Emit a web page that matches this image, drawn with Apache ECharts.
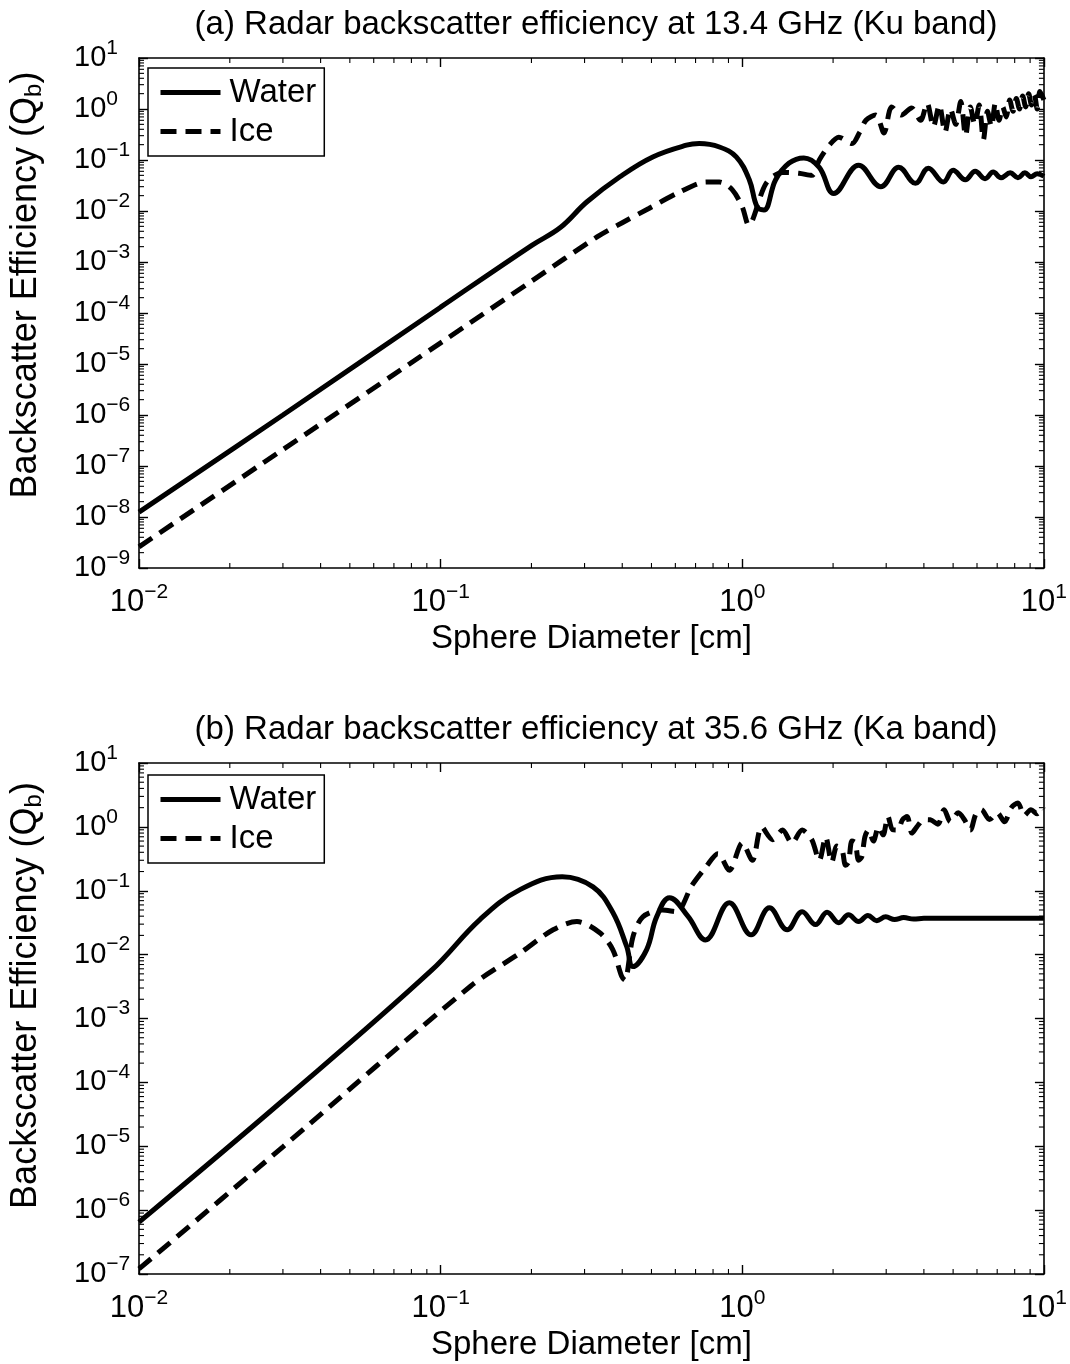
<!DOCTYPE html>
<html>
<head>
<meta charset="utf-8">
<title>Radar backscatter efficiency</title>
<script src="https://cdn.jsdelivr.net/npm/echarts@6/dist/echarts.min.js"></script>
<style>
  html, body { margin: 0; padding: 0; background: #fff; }
  #chart { width: 1070px; height: 1364px; }
</style>
</head>
<body>
<div id="chart"></div>
<script>
// ---- Ku band (13.4 GHz) ----
const kuWaterD = [0.01, 0.03, 0.1, 0.2, 0.25, 0.305, 0.393, 0.505, 0.653, 0.72, 0.84, 0.955, 1.055, 1.12, 1.18, 1.29, 1.43, 1.6, 1.8, 2.01, 2.43, 2.88, 3.30, 3.75, 4.14, 4.64, 5.0, 5.49, 5.92, 6.38, 6.79, 7.21, 7.73, 8.2, 8.65, 9.06, 9.5, 10];
const kuWaterQ = [1.25e-8, 1.0e-6, 1.3e-4, 2.1e-3, 4.8e-3, 1.5e-2, 4.7e-2, 0.115, 0.195, 0.21, 0.18, 0.115, 0.041, 0.012, 0.0105, 0.041, 0.087, 0.11, 0.072, 0.022, 0.079, 0.030, 0.072, 0.035, 0.069, 0.037, 0.063, 0.041, 0.060, 0.043, 0.058, 0.045, 0.056, 0.045, 0.056, 0.047, 0.054, 0.048];

const kuIceD = [0.01, 0.03, 0.1, 0.2, 0.33, 0.4, 0.49, 0.62, 0.76, 0.84, 0.927, 1.0, 1.05, 1.2, 1.36, 1.54, 1.7, 1.8, 1.95, 2.09, 2.31, 2.45, 2.57, 2.77, 2.95, 3.13, 3.37, 3.64, 3.9, 4.1, 4.3, 4.5, 4.7, 4.9, 5.1, 5.3, 5.5, 5.7, 5.9, 6.1, 6.3, 6.5, 6.7, 6.9, 7.1, 7.3, 7.5, 7.7, 7.9, 8.1, 8.3, 8.5, 8.7, 8.9, 9.1, 9.3, 9.5, 9.7, 10];
const kuIceQ = [2.6e-9, 2.1e-7, 2.6e-5, 4.2e-4, 3.1e-3, 5.9e-3, 1.12e-2, 2.35e-2, 3.7e-2, 3.7e-2, 2.6e-2, 1.2e-2, 5.3e-3, 3.5e-2, 5.7e-2, 5.5e-2, 5.0e-2, 0.10, 0.20, 0.28, 0.21, 0.35, 0.60, 0.76, 0.34, 1.1, 0.76, 1.05, 0.6, 1.3, 0.45, 1.2, 0.35, 1.0, 0.5, 1.4, 0.3, 1.1, 0.5, 1.2, 0.25, 0.9, 0.45, 1.3, 0.6, 1.1, 0.7, 1.5, 0.9, 1.6, 1.0, 1.8, 1.1, 2.0, 1.2, 1.9, 1.0, 2.2, 1.5];

// ---- Ka band (35.6 GHz) ----
const kaWaterD = [0.01, 0.03, 0.093, 0.1355, 0.184, 0.253, 0.32, 0.372, 0.414, 0.434, 0.482, 0.52, 0.574, 0.66, 0.755, 0.906, 1.07, 1.23, 1.41, 1.58, 1.75, 1.91, 2.09, 2.25, 2.43, 2.61, 2.79, 2.99, 3.20, 3.43, 3.7, 4.0, 10];
const kaWaterQ = [6.5e-7, 5.2e-5, 5.6e-3, 3.6e-2, 0.105, 0.166, 0.115, 0.046, 0.0133, 0.0065, 0.012, 0.039, 0.078, 0.040, 0.017, 0.065, 0.0204, 0.054, 0.0245, 0.047, 0.0295, 0.046, 0.0316, 0.042, 0.033, 0.041, 0.034, 0.039, 0.0355, 0.038, 0.036, 0.037, 0.037];

const kaIceD = [0.01, 0.03, 0.1256, 0.184, 0.236, 0.283, 0.337, 0.372, 0.398, 0.408, 0.434, 0.468, 0.544, 0.605, 0.68, 0.76, 0.83, 0.906, 1.0, 1.08, 1.16, 1.26, 1.36, 1.46, 1.58, 1.70, 1.80, 1.89, 1.98, 2.06, 2.14, 2.20, 2.25, 2.31, 2.37, 2.43, 2.49, 2.55, 2.62, 2.72, 2.83, 2.93, 3.04, 3.15, 3.27, 3.40, 3.52, 3.65, 3.79, 4.0, 4.2, 4.45, 4.67, 4.9, 5.2, 5.45, 5.7, 5.95, 6.2, 6.6, 7.0, 7.4, 7.8, 8.2, 8.6, 9.06, 9.5, 9.9, 10];
const kaIceQ = [1.2e-7, 9.8e-6, 3.2e-3, 1.07e-2, 2.45e-2, 3.3e-2, 2.2e-2, 1.2e-2, 4.6e-3, 4.0e-3, 1.9e-2, 3.9e-2, 5.0e-2, 4.7e-2, 0.12, 0.24, 0.38, 0.21, 0.56, 0.30, 1.0, 0.63, 0.89, 0.56, 0.89, 0.63, 0.30, 0.69, 0.28, 0.50, 0.44, 0.25, 0.28, 0.60, 0.56, 0.30, 0.34, 0.70, 0.89, 0.60, 1.0, 0.75, 1.45, 0.90, 0.89, 1.30, 1.45, 0.80, 1.0, 1.3, 1.29, 1.1, 1.86, 1.2, 1.66, 1.3, 0.89, 1.6, 1.86, 1.3, 1.66, 1.2, 2.0, 2.37, 1.5, 1.86, 1.6, 2.0, 1.9];

// ---- axes ----
const diamRange = [0.01, 10];
const kuQRange = [1e-9, 10];
const kaQRange = [1e-7, 10];
const panelTitles = [
  '(a) Radar backscatter efficiency at 13.4 GHz (Ku band)',
  '(b) Radar backscatter efficiency at 35.6 GHz (Ka band)'
];
const xName = 'Sphere Diameter [cm]';

const FONT = '"Liberation Sans", Arial, Helvetica, sans-serif';

// minor tick values (2..9 x 10^k) inside a decade range
function minorValues(range) {
  const out = [];
  const k0 = Math.round(Math.log10(range[0]));
  const k1 = Math.round(Math.log10(range[1]));
  for (let k = k0; k < k1; k++) {
    for (let m = 2; m <= 9; m++) out.push(m * Math.pow(10, k));
  }
  return out;
}

function pairs(xs, ys) { return xs.map((x, i) => [x, ys[i]]); }

function powLabel(v) {
  const e = Math.round(Math.log10(v));
  const s = e < 0 ? '\u2212' + (-e) : String(e);
  return '{b|10}{e|' + s + '}';
}

const labelRichX = {
  b: { fontSize: 31, fontFamily: FONT, color: '#000' },
  e: { fontSize: 21, fontFamily: FONT, color: '#000', padding: [0, 0, 20, 0] }
};
const labelRichY = {
  b: { fontSize: 29, fontFamily: FONT, color: '#000' },
  e: { fontSize: 21, fontFamily: FONT, color: '#000', padding: [0, 0, 20, 0] }
};

const grids = [
  { left: 137, top: 58, width: 908, height: 510 },
  { left: 137, top: 763, width: 908, height: 511 }
];

const axisLine = { show: true, lineStyle: { color: '#000', width: 1.6 } };
const majorTick = { show: true, inside: true, length: 9, lineStyle: { color: '#000', width: 1.4 } };

function xAxes(gi) {
  return [
    {
      type: 'log', logBase: 10, gridIndex: gi, min: diamRange[0], max: diamRange[1], interval: 1,
      position: 'bottom', axisLine, axisTick: majorTick, splitLine: { show: false },
      axisLabel: { formatter: powLabel, rich: labelRichX, margin: 14 },
      name: xName, nameLocation: 'middle', nameGap: 54,
      nameTextStyle: { fontSize: 33, fontFamily: FONT, color: '#000' }
    },
    {
      type: 'log', logBase: 10, gridIndex: gi, min: diamRange[0], max: diamRange[1], interval: 1,
      position: 'top', axisLine, axisTick: majorTick, splitLine: { show: false },
      axisLabel: { show: false }
    }
  ];
}

function yAxes(gi, range, nameShift) {
  return [
    {
      type: 'log', logBase: 10, gridIndex: gi, min: range[0], max: range[1], interval: 1,
      position: 'left', axisLine, axisTick: majorTick, splitLine: { show: false },
      axisLabel: { formatter: powLabel, rich: labelRichY, margin: 65, align: 'left' },
      name: '{n|Backscatter Efficiency (Q}{s|b}{n|)}', nameLocation: 'middle', nameGap: 93,
      nameTextStyle: {
        padding: [0, 0, 0, nameShift],
        rich: {
          n: { fontSize: 36, fontFamily: FONT, color: '#000' },
          s: { fontSize: 24, fontFamily: FONT, color: '#000', padding: [16, 0, 0, 0] }
        }
      }
    },
    {
      type: 'log', logBase: 10, gridIndex: gi, min: range[0], max: range[1], interval: 1,
      position: 'right', axisLine, axisTick: majorTick, splitLine: { show: false },
      axisLabel: { show: false }
    }
  ];
}

// short inward minor ticks on both edges of a plot box
function minorTickSeries(xi, yi, values, along, ref) {
  return {
    type: 'custom', xAxisIndex: xi, yAxisIndex: yi, silent: true, z: 5,
    clip: false,
    data: values.map(v => along === 'x' ? [v, ref] : [ref, v]),
    renderItem: function (params, api) {
      const cs = params.coordSys;
      const p = api.coord([api.value(0), api.value(1)]);
      const st = { stroke: '#000', lineWidth: 1.1 };
      const L = 5;
      if (along === 'x') {
        const x = p[0];
        return { type: 'group', children: [
          { type: 'line', shape: { x1: x, y1: cs.y + cs.height, x2: x, y2: cs.y + cs.height - L }, style: st },
          { type: 'line', shape: { x1: x, y1: cs.y, x2: x, y2: cs.y + L }, style: st }
        ]};
      }
      const y = p[1];
      return { type: 'group', children: [
        { type: 'line', shape: { x1: cs.x, y1: y, x2: cs.x + L, y2: y }, style: st },
        { type: 'line', shape: { x1: cs.x + cs.width, y1: y, x2: cs.x + cs.width - L, y2: y }, style: st }
      ]};
    }
  };
}

const waterStyle = { color: '#000', width: 5, type: 'solid' };
const iceStyle = { color: '#000', width: 5, type: [16, 9], cap: 'butt' };

function curve(name, xi, yi, data, style, smooth) {
  return {
    name, type: 'line', xAxisIndex: xi, yAxisIndex: yi, data,
    symbol: 'none', showSymbol: false, smooth, lineStyle: style, itemStyle: { color: '#000' },
    z: 3
  };
}

function legendFor(top) {
  return {
    data: ['Water', 'Ice'], orient: 'vertical', left: 148, top,
    itemWidth: 60, itemHeight: 26, itemGap: 6,
    padding: [8, 8, 8, 10], borderColor: '#000', borderWidth: 1.5, backgroundColor: '#fff',
    selectedMode: false,
    itemStyle: { opacity: 0 },
    lineStyle: { width: 5 },
    textStyle: { fontSize: 33, fontFamily: FONT, color: '#000', padding: [0, 0, 0, 4] }
  };
}

const titleStyle = { fontSize: 33, fontWeight: 'normal', fontFamily: FONT, color: '#000' };

const option = {
  animation: false,
  backgroundColor: '#fff',
  title: [
    { text: panelTitles[0], left: 591, top: 3, textAlign: 'center', textStyle: titleStyle },
    { text: panelTitles[1], left: 591, top: 708, textAlign: 'center', textStyle: titleStyle }
  ],
  legend: [legendFor(68), legendFor(775)],
  grid: grids,
  xAxis: [...xAxes(0), ...xAxes(1)],
  yAxis: [...yAxes(0, kuQRange, 56), ...yAxes(1, kaQRange, 46)],
  series: [
    curve('Water', 0, 0, pairs(kuWaterD, kuWaterQ), waterStyle, 0.4),
    curve('Ice', 0, 0, pairs(kuIceD, kuIceQ), iceStyle, 0.3),
    curve('Water', 2, 2, pairs(kaWaterD, kaWaterQ), waterStyle, 0.4),
    curve('Ice', 2, 2, pairs(kaIceD, kaIceQ), iceStyle, 0.3),
    minorTickSeries(0, 0, minorValues(diamRange), 'x', kuQRange[0]),
    minorTickSeries(0, 0, minorValues(kuQRange), 'y', diamRange[0]),
    minorTickSeries(2, 2, minorValues(diamRange), 'x', kaQRange[0]),
    minorTickSeries(2, 2, minorValues(kaQRange), 'y', diamRange[0])
  ]
};

const chart = echarts.init(document.getElementById('chart'), null, { renderer: 'canvas' });
chart.setOption(option);
</script>
</body>
</html>
